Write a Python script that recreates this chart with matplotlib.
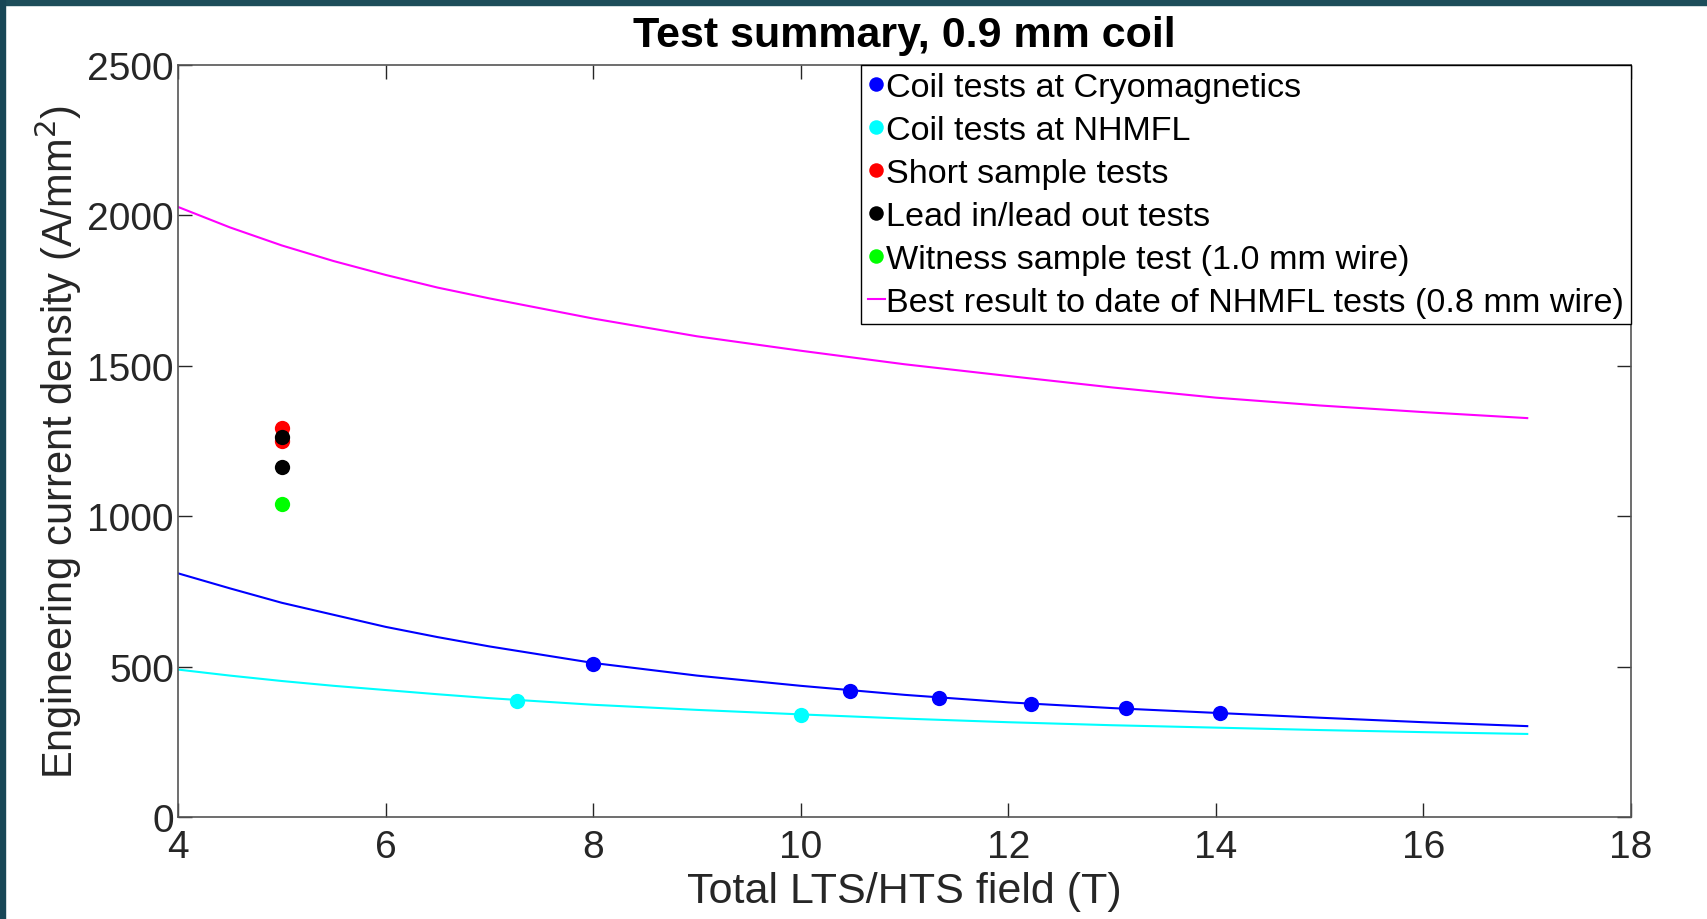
import numpy as np
import matplotlib
matplotlib.use("Agg")
import matplotlib.pyplot as plt
from matplotlib.patches import Rectangle

plt.rcParams['font.family'] = ['Liberation Sans', 'DejaVu Sans']

# fitted curves
curve_field = [4, 4.5, 5, 5.5, 6, 6.5, 7, 8, 9, 10, 11, 12, 13, 14, 15, 16, 17]
best_nhmfl = [2028, 1960, 1900, 1848, 1802, 1760, 1724, 1657, 1598, 1550, 1505, 1466,
              1428, 1394, 1368, 1346, 1326]
cryo_curve = [810, 760, 712, 672, 632, 598, 567, 512, 470, 436, 406, 381,
              362, 346, 330, 315, 302]
nhmfl_curve = [490, 470, 452, 436, 422, 408, 395, 373, 356, 341, 327, 315,
               305, 297, 289, 282, 276]

# measured points
cryo_field = [8.0, 10.47, 11.33, 12.22, 13.13, 14.04]
cryo_jc = [509, 420, 396, 376, 362, 346]
nhmfl_field = [7.27, 10.0]
nhmfl_jc = [387, 339]
short_field = [5, 5]
short_jc = [1293, 1250]
lead_field = [5, 5]
lead_jc = [1264, 1163]
witness_field = [5]
witness_jc = [1040]

fig = plt.figure(figsize=(17.07, 9.2), dpi=100)
ax = fig.add_axes([0.1043, 0.1109, 0.8512, 0.8174])

# dark frame strips at the top and left edge
fig.patches.append(Rectangle((0, 0.9935), 1, 0.0065, transform=fig.transFigure,
                             color='#1d4d5a', zorder=10))
fig.patches.append(Rectangle((0, 0), 0.003, 1, transform=fig.transFigure,
                             color='#184656', zorder=10))

ms = 11
ax.plot(cryo_field, cryo_jc, 'o', color='#0000ff', ms=ms, mec='none',
        label='Coil tests at Cryomagnetics')
ax.plot(nhmfl_field, nhmfl_jc, 'o', color='#00ffff', ms=ms, mec='none',
        label='Coil tests at NHMFL')
ax.plot(short_field, short_jc, 'o', color='#ff0000', ms=ms, mec='none',
        label='Short sample tests')
ax.plot(lead_field, lead_jc, 'o', color='#000000', ms=ms, mec='none',
        label='Lead in/lead out tests')
ax.plot(witness_field, witness_jc, 'o', color='#00ff00', ms=ms, mec='none',
        label='Witness sample test (1.0 mm wire)')
ax.plot(curve_field, best_nhmfl, '-', color='#ff00ff', lw=1.5,
        label='Best result to date of NHMFL tests (0.8 mm wire)')
ax.plot(curve_field, cryo_curve, '-', color='#0000ff', lw=1.5)
ax.plot(curve_field, nhmfl_curve, '-', color='#00ffff', lw=1.5)

ax.set_xlim(4, 18)
ax.set_ylim(0, 2500)
ax.set_xticks([4, 6, 8, 10, 12, 14, 16, 18])
ax.set_yticks([0, 500, 1000, 1500, 2000, 2500])
ax.tick_params(direction='in', length=10, width=1, top=True, right=True,
               labelsize=28, colors='#262626')
ax.tick_params(axis='x', pad=9)
ax.tick_params(axis='y', pad=3)
for sp in ax.spines.values():
    sp.set_color('#555555')
    sp.set_linewidth(1.2)

ax.set_xlabel('Total LTS/HTS field (T)', fontsize=31, color='#262626', labelpad=4)
ax.set_ylabel('Engineering current density (A/mm$^2$)', fontsize=30,
              color='#262626', labelpad=2)
ax.set_title('Test summary, 0.9 mm coil', fontsize=31, fontweight='bold', pad=14)

leg = ax.legend(loc='upper right', fontsize=24.6, handlelength=0.5, handletextpad=0.05,
                borderpad=0.2, labelspacing=0.35, borderaxespad=0, fancybox=False,
                framealpha=1, markerscale=0.95)
leg.get_frame().set_edgecolor('#000000')
leg.get_frame().set_linewidth(1.0)

fig.savefig('out.png', dpi=100, facecolor='white')
